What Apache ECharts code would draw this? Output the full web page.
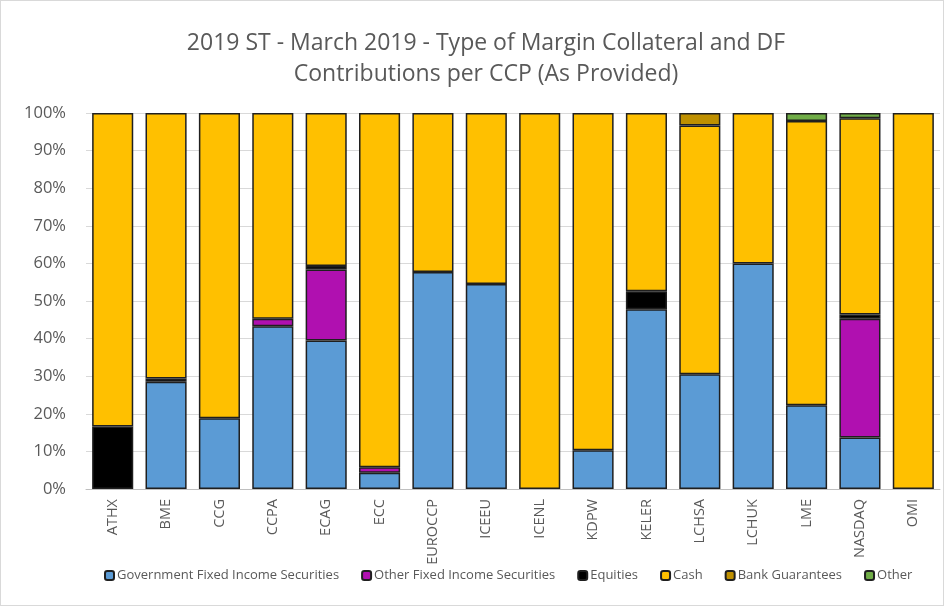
<!DOCTYPE html>
<html><head><meta charset="utf-8">
<script src="https://cdn.jsdelivr.net/npm/echarts@6/dist/echarts.min.js"></script>
<style>html,body{margin:0;padding:0;background:#fff}#c{width:944px;height:606px;box-sizing:border-box;border:1px solid #d9d9d9}</style>
</head><body><div id="c"></div>
<script>
const categories = ['ATHX','BME','CCG','CCPA','ECAG','ECC','EUROCCP','ICEEU','ICENL','KDPW','KELER','LCHSA','LCHUK','LME','NASDAQ','OMI'];
const govFixed   = [0, 28.5, 18.8, 43.3, 39.5, 4.3, 57.7, 54.5, 0, 10.3, 47.8, 30.5, 60.0, 22.3, 13.7, 0];
const otherFixed = [0, 0, 0, 2.0, 18.9, 1.5, 0, 0, 0, 0, 0, 0, 0, 0, 31.6, 0];
const equities   = [16.6, 0.9, 0, 0, 0.9, 0, 0, 0, 0, 0, 4.8, 0, 0, 0, 1.1, 0];
const cash       = [83.4, 70.6, 81.2, 54.7, 40.7, 94.2, 42.3, 45.5, 100, 89.7, 47.4, 66.2, 40.0, 75.6, 52.2, 100];
const bankGuar   = [0, 0, 0, 0, 0, 0, 0, 0, 0, 0, 0, 3.3, 0, 0, 0, 0];
const other      = [0, 0, 0, 0, 0, 0, 0, 0, 0, 0, 0, 0, 0, 2.1, 1.4, 0];
const yTicks = [0,10,20,30,40,50,60,70,80,90,100];

const seriesDefs = [
  ['Government Fixed Income Securities', govFixed, '#5b9bd5'],
  ['Other Fixed Income Securities', otherFixed, '#b010b0'],
  ['Equities', equities, '#000000'],
  ['Cash', cash, '#ffc000'],
  ['Bank Guarantees', bankGuar, '#bf9000'],
  ['Other', other, '#70ad47']
];
const font = '"Open Sans", sans-serif';
const chart = echarts.init(document.getElementById('c'));
chart.setOption({
  animation: false,
  title: {
    text: '2019 ST - March 2019 - Type of Margin Collateral and DF\nContributions per CCP (As Provided)',
    left: 480, textAlign: 'center', top: 22,
    textStyle: { fontFamily: font, fontSize: 23, fontWeight: 'normal', color: '#595959', lineHeight: 31 }
  },
  legend: {
    left: 98, top: 563, itemWidth: 9, itemHeight: 9, itemGap: 22,
    textStyle: { fontFamily: font, fontSize: 13, color: '#595959', padding: [0,0,0,-2] },
    data: seriesDefs.map(s => s[0])
  },
  grid: { left: 85, right: 3, top: 112, bottom: 116 },
  xAxis: {
    type: 'category', data: categories,
    axisLine: { lineStyle: { color: '#bfbfbf' } },
    axisTick: { show: false },
    axisLabel: { rotate: 90, fontFamily: font, fontSize: 14.5, color: '#595959', margin: 10, interval: 0 }
  },
  yAxis: {
    type: 'value', min: 0, max: 100, interval: 10,
    axisLine: { show: false }, axisTick: { show: false },
    splitLine: { lineStyle: { color: '#d9d9d9' } },
    axisLabel: { formatter: v => yTicks.includes(v) ? v + '%' : '', fontFamily: font, fontSize: 16.5, color: '#595959', margin: 20 }
  },
  series: seriesDefs.map(s => ({
    name: s[0], type: 'bar', stack: 'all', data: s[1].map(v => v === 0 ? '-' : v),
    barCategoryGap: '23%',
    itemStyle: { color: s[2], borderColor: '#1f1f1f', borderWidth: 1.5 }
  }))
});
</script></body></html>
